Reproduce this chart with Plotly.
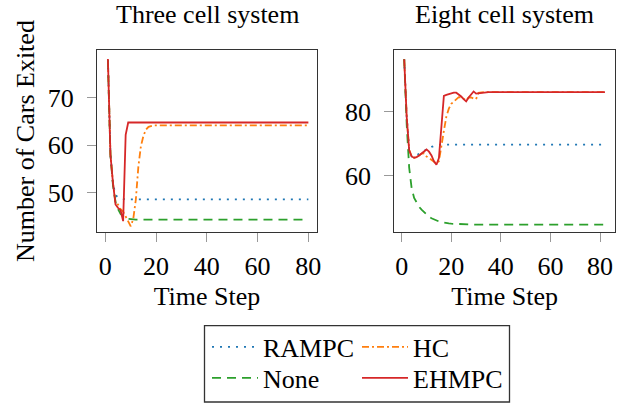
import plotly.graph_objects as go

# ---------------- data ----------------
steps_three = [1, 2, 3, 4, 5, 6, 7, 8, 9, 10, 11, 12, 13, 14, 15, 16, 17, 18, 19, 20, 80]
three_rampc = [78.0, 58.0, 52.0, 49.5, 49.0, 48.8, 48.7, 48.6, 48.6, 48.6, 48.6, 48.6, 48.6, 48.6, 48.6, 48.6, 48.6, 48.6, 48.6, 48.6, 48.6]
three_hc = [78.0, 58.0, 52.0, 48.0, 47.5, 46.5, 46.0, 45.0, 44.0, 42.9, 44.5, 48.5, 55.5, 59.8, 62.0, 63.3, 63.9, 64.1, 64.2, 64.2, 64.2]
three_none = [78.0, 58.0, 51.5, 48.0, 46.5, 45.5, 45.0, 44.6, 44.5, 44.4, 44.3, 44.3, 44.3, 44.3, 44.3, 44.3, 44.3, 44.3, 44.3, 44.3, 44.3]
three_ehmpc = [78.2, 58.0, 52.0, 47.5, 46.8, 46.3, 44.0, 62.2, 64.8, 64.8, 64.8, 64.8, 64.8, 64.8, 64.8, 64.8, 64.8, 64.8, 64.8, 64.8, 64.8]

steps_eight = [1, 2, 3, 4, 5, 6, 7, 8, 9, 10, 11, 12, 13, 14, 15, 16, 17, 18, 19, 20,
               21, 22, 23, 24, 25, 26, 27, 28, 29, 30, 31, 32, 33, 34, 35, 82]
eight_rampc = [96.5, 78.5, 68.0, 66.0, 66.0, 66.3, 66.8, 67.3, 67.8, 68.2, 68.6, 69.0, 69.3, 69.5, 69.6, 69.7, 69.7, 69.7, 69.7, 69.7,
               69.7, 69.7, 69.7, 69.7, 69.7, 69.7, 69.7, 69.7, 69.7, 69.7, 69.7, 69.7, 69.7, 69.7, 69.7, 69.7]
eight_hc = [96.5, 78.5, 68.0, 66.0, 65.6, 65.8, 66.3, 66.9, 67.0, 66.0, 65.5, 65.0, 64.5, 63.8, 64.5, 70.0, 74.0, 78.5, 81.0, 82.5,
            83.3, 84.0, 84.6, 84.5, 84.0, 83.6, 84.5, 84.5, 84.2, 84.0, 86.0, 86.2, 86.2, 86.2, 86.2, 86.2]
eight_none = [96.5, 76.0, 62.5, 56.0, 53.0, 51.4, 50.2, 49.3, 48.5, 47.7, 47.1, 46.6, 46.2, 45.9, 45.6, 45.4, 45.2, 45.1, 45.0, 44.9,
              44.85, 44.8, 44.75, 44.7, 44.7, 44.65, 44.6, 44.6, 44.6, 44.6, 44.6, 44.6, 44.6, 44.6, 44.6, 44.6]
eight_ehmpc = [96.5, 78.5, 68.0, 66.0, 65.6, 65.8, 66.3, 66.9, 67.5, 68.2, 67.5, 66.3, 64.5, 63.4, 65.5, 75.0, 85.0, 85.3, 85.6, 85.8,
               86.0, 86.0, 85.5, 84.8, 84.0, 83.3, 84.5, 85.6, 86.4, 85.7, 85.8, 86.1, 86.2, 86.2, 86.2, 86.2]

series_names = ["RAMPC", "HC", "None", "EHMPC"]
panel_titles = ["Three cell system", "Eight cell system"]
y_title = "Number of Cars Exited"
x_title = "Time Step"

# ---------------- style ----------------
FONT = "Liberation Serif"
FS = 26
W, H = 632, 407
# plot area in window pixels: x 97..615, y 50..232
ML, MR, MT, MB = 97, 632 - 615, 50, 407 - 232
PW = W - ML - MR
PH = H - MT - MB


def xp(px):
    return (px - ML) / PW


def yp(py):
    return (H - MB - py) / PH


styles = {
    "RAMPC": dict(color="#1f77b4", dash="2px,6px", width=1.8),
    "HC": dict(color="#ff7f0e", dash="7px,3px,2px,3px", width=1.8),
    "None": dict(color="#2ca02c", dash="9px,6px", width=1.8),
    "EHMPC": dict(color="#d62728", dash="solid", width=1.8),
}
legend_ids = {"RAMPC": "legend", "None": "legend2", "HC": "legend3", "EHMPC": "legend4"}

fig = go.Figure()

panels = [
    ("x", "y", steps_three, {"RAMPC": three_rampc, "HC": three_hc, "None": three_none, "EHMPC": three_ehmpc}, True),
    ("x2", "y2", steps_eight, {"RAMPC": eight_rampc, "HC": eight_hc, "None": eight_none, "EHMPC": eight_ehmpc}, False),
]
for xa, ya, steps, data, show in panels:
    for name in series_names:
        fig.add_trace(go.Scatter(
            x=steps, y=data[name], mode="lines", name=name,
            line=styles[name], xaxis=xa, yaxis=ya,
            showlegend=show, legend=legend_ids[name],
        ))

axis_common = dict(
    showline=True, mirror=True, linecolor="#333333", linewidth=1.3,
    ticks="outside", ticklen=9, tickwidth=1.3, tickcolor="#999999",
    showgrid=False, zeroline=False,
    tickfont=dict(family=FONT, size=FS, color="black"),
    title_font=dict(family=FONT, size=FS, color="black"),
)

fig.update_layout(
    width=W, height=H,
    margin=dict(l=ML, r=MR, t=MT, b=MB, autoexpand=False),
    paper_bgcolor="white", plot_bgcolor="white",
    font=dict(family=FONT, size=FS, color="black"),
    xaxis=dict(domain=[0, xp(317)], range=[-3.3, 83.4], tickvals=[0, 20, 40, 60, 80],
               title=dict(text=x_title, standoff=6), anchor="y", ticklabelstandoff=2, **axis_common),
    yaxis=dict(domain=[0, 1], range=[41.7, 80.1], tickvals=[50, 60, 70],
               anchor="x", ticklabelstandoff=8, **axis_common),
    xaxis2=dict(domain=[xp(394.3), 1], range=[-3.0, 86.05], tickvals=[0, 20, 40, 60, 80],
                title=dict(text=x_title, standoff=6), anchor="y2", ticklabelstandoff=2, **axis_common),
    yaxis2=dict(domain=[0, 1], range=[42.3, 99.4], tickvals=[60, 80],
                anchor="x2", ticklabelstandoff=8, **axis_common),
    showlegend=True,
)

leg_common = dict(font=dict(family=FONT, size=FS, color="black"), bgcolor="rgba(0,0,0,0)",
                  borderwidth=0, itemwidth=46, xanchor="left", yanchor="middle",
                  orientation="v", itemclick=False, itemdoubleclick=False)
fig.update_layout(
    legend=dict(x=xp(207), y=yp(347), **leg_common),
    legend2=dict(x=xp(207), y=yp(378), **leg_common),
    legend3=dict(x=xp(357), y=yp(347), **leg_common),
    legend4=dict(x=xp(357), y=yp(378), **leg_common),
)

# legend frame
fig.add_shape(type="rect", xref="paper", yref="paper",
              x0=xp(204.5), x1=xp(509.5), y0=yp(402), y1=yp(325.7),
              line=dict(color="#333333", width=1.3), fillcolor="rgba(0,0,0,0)", layer="above")

# panel titles
centers = [(97 + 317) / 2, (394.3 + 615) / 2]
for title, cx in zip(panel_titles, centers):
    fig.add_annotation(text=title, xref="paper", yref="paper", x=xp(cx), y=yp(14),
                       xanchor="center", yanchor="middle", showarrow=False,
                       font=dict(family=FONT, size=FS, color="black"))

# shared y-axis title
fig.add_annotation(text=y_title, xref="paper", yref="paper", x=xp(25), y=0.5,
                   xanchor="center", yanchor="middle", textangle=-90, showarrow=False,
                   font=dict(family=FONT, size=FS, color="black"))

# remove the browser's default 8px body margin so the figure fills the window
fig.write_html("out.html", config={"displayModeBar": False},
               post_script="document.body.style.margin='0';")
